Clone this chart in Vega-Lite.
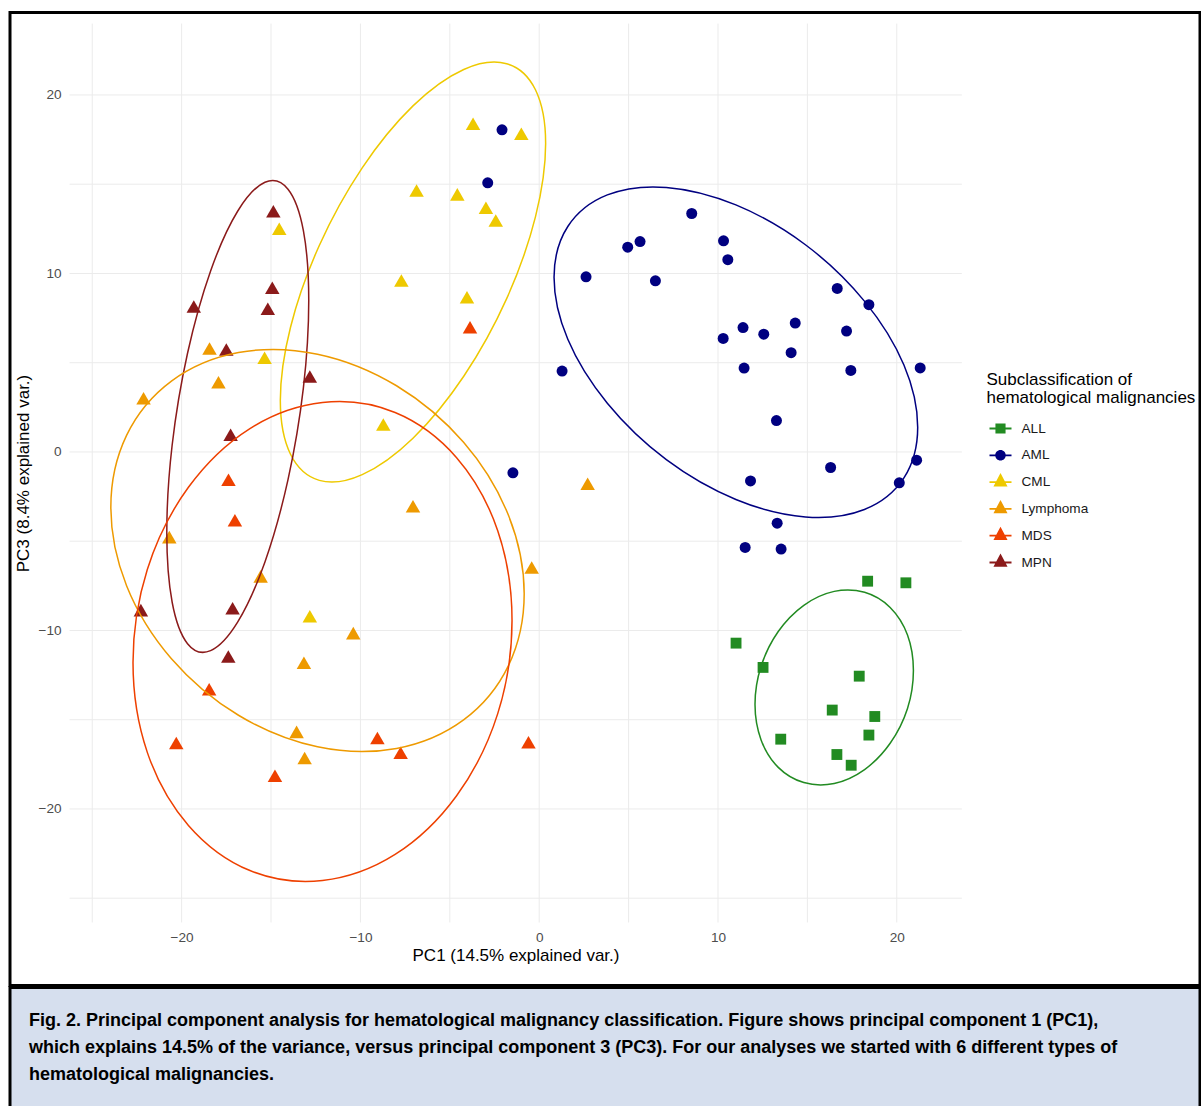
{
  "$schema": "https://vega.github.io/schema/vega-lite/v6.json",
  "background": "white",
  "padding": {"left": 8, "top": 10.5, "right": 0, "bottom": -4.5},
  "spacing": -3,
  "datasets": {
    "grid": [{"v": -25}, {"v": -20}, {"v": -15}, {"v": -10}, {"v": -5}, {"v": 0}, {"v": 5}, {"v": 10}, {"v": 15}, {"v": 20}],
    "points": [
      {"group": "ALL", "PC1": 18.37, "PC3": -7.24}, {"group": "ALL", "PC1": 20.51, "PC3": -7.33}, {"group": "ALL", "PC1": 11.01, "PC3": -10.71},
      {"group": "ALL", "PC1": 12.52, "PC3": -12.07}, {"group": "ALL", "PC1": 17.90, "PC3": -12.56}, {"group": "ALL", "PC1": 16.39, "PC3": -14.46},
      {"group": "ALL", "PC1": 18.77, "PC3": -14.82}, {"group": "ALL", "PC1": 18.44, "PC3": -15.86}, {"group": "ALL", "PC1": 13.51, "PC3": -16.09},
      {"group": "ALL", "PC1": 16.65, "PC3": -16.95}, {"group": "ALL", "PC1": 17.45, "PC3": -17.55},
      {"group": "AML", "PC1": 8.53, "PC3": 13.36}, {"group": "AML", "PC1": 4.95, "PC3": 11.47}, {"group": "AML", "PC1": 5.64, "PC3": 11.79},
      {"group": "AML", "PC1": 10.31, "PC3": 11.83}, {"group": "AML", "PC1": 10.55, "PC3": 10.77}, {"group": "AML", "PC1": 2.62, "PC3": 9.81},
      {"group": "AML", "PC1": 6.50, "PC3": 9.59}, {"group": "AML", "PC1": 16.67, "PC3": 9.16}, {"group": "AML", "PC1": 18.44, "PC3": 8.25},
      {"group": "AML", "PC1": 11.40, "PC3": 6.97}, {"group": "AML", "PC1": 12.56, "PC3": 6.60}, {"group": "AML", "PC1": 14.32, "PC3": 7.22},
      {"group": "AML", "PC1": 10.29, "PC3": 6.36}, {"group": "AML", "PC1": 17.19, "PC3": 6.77}, {"group": "AML", "PC1": 14.09, "PC3": 5.56},
      {"group": "AML", "PC1": 1.28, "PC3": 4.53}, {"group": "AML", "PC1": 11.46, "PC3": 4.70}, {"group": "AML", "PC1": 17.43, "PC3": 4.57},
      {"group": "AML", "PC1": 21.31, "PC3": 4.71}, {"group": "AML", "PC1": 13.27, "PC3": 1.76}, {"group": "AML", "PC1": 21.11, "PC3": -0.46},
      {"group": "AML", "PC1": 16.30, "PC3": -0.87}, {"group": "AML", "PC1": 20.14, "PC3": -1.73}, {"group": "AML", "PC1": 11.82, "PC3": -1.62},
      {"group": "AML", "PC1": 13.31, "PC3": -3.99}, {"group": "AML", "PC1": 11.52, "PC3": -5.35}, {"group": "AML", "PC1": 13.53, "PC3": -5.44},
      {"group": "AML", "PC1": -2.08, "PC3": 18.05}, {"group": "AML", "PC1": -2.88, "PC3": 15.08}, {"group": "AML", "PC1": -1.47, "PC3": -1.17},
      {"group": "CML", "PC1": -3.70, "PC3": 18.39}, {"group": "CML", "PC1": -1.00, "PC3": 17.83}, {"group": "CML", "PC1": -6.86, "PC3": 14.65},
      {"group": "CML", "PC1": -4.58, "PC3": 14.43}, {"group": "CML", "PC1": -2.98, "PC3": 13.68}, {"group": "CML", "PC1": -2.43, "PC3": 12.97},
      {"group": "CML", "PC1": -14.54, "PC3": 12.50}, {"group": "CML", "PC1": -7.71, "PC3": 9.61}, {"group": "CML", "PC1": -4.04, "PC3": 8.67},
      {"group": "CML", "PC1": -15.36, "PC3": 5.28}, {"group": "CML", "PC1": -8.72, "PC3": 1.54}, {"group": "CML", "PC1": -12.83, "PC3": -9.20},
      {"group": "Lymphoma", "PC1": -18.44, "PC3": 5.80}, {"group": "Lymphoma", "PC1": -17.94, "PC3": 3.91}, {"group": "Lymphoma", "PC1": -22.13, "PC3": 3.01},
      {"group": "Lymphoma", "PC1": -20.69, "PC3": -4.77}, {"group": "Lymphoma", "PC1": -7.06, "PC3": -3.04}, {"group": "Lymphoma", "PC1": -15.58, "PC3": -6.97},
      {"group": "Lymphoma", "PC1": -10.40, "PC3": -10.15}, {"group": "Lymphoma", "PC1": -13.16, "PC3": -11.81}, {"group": "Lymphoma", "PC1": -13.57, "PC3": -15.68},
      {"group": "Lymphoma", "PC1": -13.12, "PC3": -17.15}, {"group": "Lymphoma", "PC1": -0.42, "PC3": -6.47}, {"group": "Lymphoma", "PC1": 2.71, "PC3": -1.78},
      {"group": "MDS", "PC1": -3.87, "PC3": 6.99}, {"group": "MDS", "PC1": -17.38, "PC3": -1.56}, {"group": "MDS", "PC1": -17.02, "PC3": -3.82},
      {"group": "MDS", "PC1": -18.46, "PC3": -13.29}, {"group": "MDS", "PC1": -20.30, "PC3": -16.31}, {"group": "MDS", "PC1": -14.78, "PC3": -18.14},
      {"group": "MDS", "PC1": -9.05, "PC3": -16.03}, {"group": "MDS", "PC1": -7.75, "PC3": -16.85}, {"group": "MDS", "PC1": -0.60, "PC3": -16.26},
      {"group": "MPN", "PC1": -14.87, "PC3": 13.49}, {"group": "MPN", "PC1": -14.93, "PC3": 9.20}, {"group": "MPN", "PC1": -15.18, "PC3": 8.02},
      {"group": "MPN", "PC1": -19.32, "PC3": 8.15}, {"group": "MPN", "PC1": -17.50, "PC3": 5.74}, {"group": "MPN", "PC1": -12.83, "PC3": 4.23},
      {"group": "MPN", "PC1": -17.26, "PC3": 0.96}, {"group": "MPN", "PC1": -22.28, "PC3": -8.86}, {"group": "MPN", "PC1": -17.15, "PC3": -8.75},
      {"group": "MPN", "PC1": -17.39, "PC3": -11.46}
    ],
    "ellipses": [
      {"group": "AML", "idx": 0, "PC1": 21.17, "PC3": 1.39}, {"group": "AML", "idx": 1, "PC1": 20.40, "PC3": -1.45},
      {"group": "AML", "idx": 2, "PC1": 18.19, "PC3": -3.22}, {"group": "AML", "idx": 3, "PC1": 14.89, "PC3": -3.64},
      {"group": "AML", "idx": 4, "PC1": 11.00, "PC3": -2.66}, {"group": "AML", "idx": 5, "PC1": 7.11, "PC3": -0.43},
      {"group": "AML", "idx": 6, "PC1": 3.81, "PC3": 2.73}, {"group": "AML", "idx": 7, "PC1": 1.60, "PC3": 6.31},
      {"group": "AML", "idx": 8, "PC1": 0.83, "PC3": 9.79}, {"group": "AML", "idx": 9, "PC1": 1.60, "PC3": 12.63},
      {"group": "AML", "idx": 10, "PC1": 3.81, "PC3": 14.40}, {"group": "AML", "idx": 11, "PC1": 7.11, "PC3": 14.82},
      {"group": "AML", "idx": 12, "PC1": 11.00, "PC3": 13.84}, {"group": "AML", "idx": 13, "PC1": 14.89, "PC3": 11.61},
      {"group": "AML", "idx": 14, "PC1": 18.19, "PC3": 8.45}, {"group": "AML", "idx": 15, "PC1": 20.40, "PC3": 4.87},
      {"group": "CML", "idx": 0, "PC1": 0.36, "PC3": 17.28}, {"group": "CML", "idx": 1, "PC1": -0.21, "PC3": 13.17},
      {"group": "CML", "idx": 2, "PC1": -1.82, "PC3": 8.59}, {"group": "CML", "idx": 3, "PC1": -4.22, "PC3": 4.24},
      {"group": "CML", "idx": 4, "PC1": -7.06, "PC3": 0.77}, {"group": "CML", "idx": 5, "PC1": -9.90, "PC3": -1.27},
      {"group": "CML", "idx": 6, "PC1": -12.30, "PC3": -1.59}, {"group": "CML", "idx": 7, "PC1": -13.91, "PC3": -0.13},
      {"group": "CML", "idx": 8, "PC1": -14.48, "PC3": 2.88}, {"group": "CML", "idx": 9, "PC1": -13.91, "PC3": 6.99},
      {"group": "CML", "idx": 10, "PC1": -12.30, "PC3": 11.57}, {"group": "CML", "idx": 11, "PC1": -9.90, "PC3": 15.92},
      {"group": "CML", "idx": 12, "PC1": -7.06, "PC3": 19.39}, {"group": "CML", "idx": 13, "PC1": -4.22, "PC3": 21.43},
      {"group": "CML", "idx": 14, "PC1": -1.82, "PC3": 21.75}, {"group": "CML", "idx": 15, "PC1": -0.21, "PC3": 20.29},
      {"group": "MPN", "idx": 0, "PC1": -12.89, "PC3": 8.49}, {"group": "MPN", "idx": 1, "PC1": -13.19, "PC3": 3.59},
      {"group": "MPN", "idx": 2, "PC1": -14.05, "PC3": -1.55}, {"group": "MPN", "idx": 3, "PC1": -15.34, "PC3": -6.16},
      {"group": "MPN", "idx": 4, "PC1": -16.86, "PC3": -9.52}, {"group": "MPN", "idx": 5, "PC1": -18.38, "PC3": -11.13},
      {"group": "MPN", "idx": 6, "PC1": -19.67, "PC3": -10.74}, {"group": "MPN", "idx": 7, "PC1": -20.53, "PC3": -8.42},
      {"group": "MPN", "idx": 8, "PC1": -20.83, "PC3": -4.51}, {"group": "MPN", "idx": 9, "PC1": -20.53, "PC3": 0.39},
      {"group": "MPN", "idx": 10, "PC1": -19.67, "PC3": 5.53}, {"group": "MPN", "idx": 11, "PC1": -18.38, "PC3": 10.14},
      {"group": "MPN", "idx": 12, "PC1": -16.86, "PC3": 13.50}, {"group": "MPN", "idx": 13, "PC1": -15.34, "PC3": 15.11},
      {"group": "MPN", "idx": 14, "PC1": -14.05, "PC3": 14.72}, {"group": "MPN", "idx": 15, "PC1": -13.19, "PC3": 12.40},
      {"group": "Lymphoma", "idx": 0, "PC1": -0.84, "PC3": -7.95}, {"group": "Lymphoma", "idx": 1, "PC1": -1.72, "PC3": -11.97},
      {"group": "Lymphoma", "idx": 2, "PC1": -4.23, "PC3": -15.01}, {"group": "Lymphoma", "idx": 3, "PC1": -7.98, "PC3": -16.61},
      {"group": "Lymphoma", "idx": 4, "PC1": -12.40, "PC3": -16.52}, {"group": "Lymphoma", "idx": 5, "PC1": -16.82, "PC3": -14.75},
      {"group": "Lymphoma", "idx": 6, "PC1": -20.57, "PC3": -11.58}, {"group": "Lymphoma", "idx": 7, "PC1": -23.08, "PC3": -7.49},
      {"group": "Lymphoma", "idx": 8, "PC1": -23.96, "PC3": -3.09}, {"group": "Lymphoma", "idx": 9, "PC1": -23.08, "PC3": 0.93},
      {"group": "Lymphoma", "idx": 10, "PC1": -20.57, "PC3": 3.97}, {"group": "Lymphoma", "idx": 11, "PC1": -16.82, "PC3": 5.57},
      {"group": "Lymphoma", "idx": 12, "PC1": -12.40, "PC3": 5.48}, {"group": "Lymphoma", "idx": 13, "PC1": -7.98, "PC3": 3.71},
      {"group": "Lymphoma", "idx": 14, "PC1": -4.23, "PC3": 0.54}, {"group": "Lymphoma", "idx": 15, "PC1": -1.72, "PC3": -3.55},
      {"group": "MDS", "idx": 0, "PC1": -1.52, "PC3": -9.44}, {"group": "MDS", "idx": 1, "PC1": -2.32, "PC3": -14.66},
      {"group": "MDS", "idx": 2, "PC1": -4.62, "PC3": -19.26}, {"group": "MDS", "idx": 3, "PC1": -8.06, "PC3": -22.55},
      {"group": "MDS", "idx": 4, "PC1": -12.12, "PC3": -24.01}, {"group": "MDS", "idx": 5, "PC1": -16.18, "PC3": -23.45},
      {"group": "MDS", "idx": 6, "PC1": -19.62, "PC3": -20.92}, {"group": "MDS", "idx": 7, "PC1": -21.92, "PC3": -16.83},
      {"group": "MDS", "idx": 8, "PC1": -22.72, "PC3": -11.80}, {"group": "MDS", "idx": 9, "PC1": -21.92, "PC3": -6.58},
      {"group": "MDS", "idx": 10, "PC1": -19.62, "PC3": -1.98}, {"group": "MDS", "idx": 11, "PC1": -16.18, "PC3": 1.31},
      {"group": "MDS", "idx": 12, "PC1": -12.12, "PC3": 2.77}, {"group": "MDS", "idx": 13, "PC1": -8.06, "PC3": 2.21},
      {"group": "MDS", "idx": 14, "PC1": -4.62, "PC3": -0.32}, {"group": "MDS", "idx": 15, "PC1": -2.32, "PC3": -4.41},
      {"group": "ALL", "idx": 0, "PC1": 20.93, "PC3": -12.24}, {"group": "ALL", "idx": 1, "PC1": 20.60, "PC3": -14.37},
      {"group": "ALL", "idx": 2, "PC1": 19.63, "PC3": -16.32}, {"group": "ALL", "idx": 3, "PC1": 18.20, "PC3": -17.79},
      {"group": "ALL", "idx": 4, "PC1": 16.50, "PC3": -18.57}, {"group": "ALL", "idx": 5, "PC1": 14.80, "PC3": -18.52},
      {"group": "ALL", "idx": 6, "PC1": 13.37, "PC3": -17.67}, {"group": "ALL", "idx": 7, "PC1": 12.41, "PC3": -16.13},
      {"group": "ALL", "idx": 8, "PC1": 12.07, "PC3": -14.14}, {"group": "ALL", "idx": 9, "PC1": 12.41, "PC3": -12.01},
      {"group": "ALL", "idx": 10, "PC1": 13.37, "PC3": -10.06}, {"group": "ALL", "idx": 11, "PC1": 14.80, "PC3": -8.59},
      {"group": "ALL", "idx": 12, "PC1": 16.50, "PC3": -7.81}, {"group": "ALL", "idx": 13, "PC1": 18.20, "PC3": -7.86},
      {"group": "ALL", "idx": 14, "PC1": 19.63, "PC3": -8.71}, {"group": "ALL", "idx": 15, "PC1": 20.60, "PC3": -10.25}
    ],
    "caption": [
      {"line": 1, "text": "Fig. 2. Principal component analysis for hematological malignancy classification. Figure shows principal component 1 (PC1),"},
      {"line": 2, "text": "which explains 14.5% of the variance, versus principal component 3 (PC3). For our analyses we started with 6 different types of"},
      {"line": 3, "text": "hematological malignancies."}
    ]
  },
  "vconcat": [
    {
      "width": 1190,
      "height": 973,
      "view": {"fill": "white", "stroke": "black", "strokeWidth": 3},
      "layer": [
        {
          "data": {"name": "grid"},
          "mark": {"type": "rule", "color": "#EBEBEB", "strokeWidth": 1},
          "encoding": {
            "x": {
              "field": "v", "type": "quantitative",
              "scale": {"domain": [-29.6, 36.96], "nice": false, "zero": false},
              "axis": {
                "orient": "bottom", "offset": -63, "values": [-20, -10, 0, 10, 20], "zindex": 1,
                "grid": false, "domain": false, "ticks": false, "labelPadding": 8,
                "labelFont": "Liberation Sans", "labelFontSize": 13.6, "labelColor": "#4D4D4D", "labelFlush": false, "labelOverlap": false,
                "title": "PC1 (14.5% explained var.)", "titleFont": "Liberation Sans", "titleFontSize": 17, "titleFontWeight": "normal",
                "titleColor": "black", "titleX": 505.5, "titleY": 32.5, "titleBaseline": "middle", "titleAlign": "center"
              }
            },
            "y": {
              "datum": -26.36, "type": "quantitative",
              "scale": {"domain": [-29.89, 24.62], "nice": false, "zero": false},
              "axis": {
                "orient": "left", "offset": -59.5, "values": [-20, -10, 0, 10, 20], "zindex": 1,
                "grid": false, "domain": false, "ticks": false, "labelPadding": 8.5,
                "labelFont": "Liberation Sans", "labelFontSize": 13.6, "labelColor": "#4D4D4D", "labelFlush": false, "labelOverlap": false,
                "title": "PC3 (8.4% explained var.)", "titleFont": "Liberation Sans", "titleFontSize": 17, "titleFontWeight": "normal",
                "titleColor": "black", "titleX": -46, "titleY": 460.5, "titleAngle": -90, "titleBaseline": "middle", "titleAlign": "center"
              }
            },
            "y2": {"datum": 24.0}
          }
        },
        {
          "data": {"name": "grid"},
          "mark": {"type": "rule", "color": "#EBEBEB", "strokeWidth": 1},
          "encoding": {
            "y": {"field": "v", "type": "quantitative", "scale": {"domain": [-29.89, 24.62], "nice": false, "zero": false}},
            "x": {"datum": -26.27, "type": "quantitative"},
            "x2": {"datum": 23.64}
          }
        },
        {
          "data": {"name": "points"},
          "transform": [{"filter": "false"}],
          "mark": {"type": "point", "filled": true, "opacity": 1, "strokeWidth": 0},
          "encoding": {
            "x": {"field": "PC1", "type": "quantitative", "scale": {"domain": [-29.6, 36.96], "nice": false, "zero": false}},
            "y": {"field": "PC3", "type": "quantitative", "scale": {"domain": [-29.89, 24.62], "nice": false, "zero": false}},
            "color": {
              "field": "group", "type": "nominal",
              "scale": {"domain": ["ALL", "AML", "CML", "Lymphoma", "MDS", "MPN"], "range": ["#228B22", "#000080", "#EEC900", "#EE9A00", "#EE4000", "#8B1A1A"]},
              "legend": {
                "title": ["Subclassification of", "hematological malignancies"],
                "orient": "none", "legendX": 976.5, "legendY": 359, "padding": 0,
                "titleFont": "Liberation Sans", "titleFontSize": 17, "titleFontWeight": "normal", "titleColor": "black",
                "titleLineHeight": 18, "titlePadding": 11, "titleLimit": 400,
                "labelFont": "Liberation Sans", "labelFontSize": 13.6, "labelColor": "#1A1A1A", "labelOffset": 10, "labelLimit": 300,
                "symbolSize": 484, "symbolOffset": 3, "symbolStrokeWidth": 0, "symbolOpacity": 1, "rowPadding": 8.8
              }
            },
            "shape": {
              "field": "group", "type": "nominal",
              "scale": {
                "domain": ["ALL", "AML", "CML", "Lymphoma", "MDS", "MPN"],
                "range": [
                  "M-1,-0.08H1V0.08H-1ZM-0.46,-0.46H0.46V0.46H-0.46Z",
                  "M-1,-0.08H1V0.08H-1ZM-0.48,0A0.48,0.48,0,1,1,0.48,0A0.48,0.48,0,1,1,-0.48,0Z",
                  "M-1,-0.08H1V0.08H-1ZM0,-0.82L0.64,0.39L-0.64,0.39Z",
                  "M-1,-0.08H1V0.08H-1ZM0,-0.82L0.64,0.39L-0.64,0.39Z",
                  "M-1,-0.08H1V0.08H-1ZM0,-0.82L0.64,0.39L-0.64,0.39Z",
                  "M-1,-0.08H1V0.08H-1ZM0,-0.82L0.64,0.39L-0.64,0.39Z"
                ]
              },
              "legend": {"title": ["Subclassification of", "hematological malignancies"], "symbolOpacity": 1}
            }
          }
        },
        {
          "data": {"name": "points"},
          "transform": [{"filter": "datum.group === 'ALL'"}],
          "mark": {"type": "point", "shape": "square", "size": 118, "filled": true, "opacity": 1, "strokeWidth": 0},
          "encoding": {
            "x": {"field": "PC1", "type": "quantitative"},
            "y": {"field": "PC3", "type": "quantitative"},
            "fill": {
              "field": "group", "type": "nominal",
              "scale": {"domain": ["ALL", "AML", "CML", "Lymphoma", "MDS", "MPN"], "range": ["#228B22", "#000080", "#EEC900", "#EE9A00", "#EE4000", "#8B1A1A"]},
              "legend": null
            }
          }
        },
        {
          "data": {"name": "points"},
          "transform": [{"filter": "datum.group === 'AML'"}],
          "mark": {"type": "point", "shape": "circle", "size": 121, "filled": true, "opacity": 1, "strokeWidth": 0},
          "encoding": {
            "x": {"field": "PC1", "type": "quantitative"},
            "y": {"field": "PC3", "type": "quantitative"},
            "fill": {"field": "group", "type": "nominal", "legend": null}
          }
        },
        {
          "data": {"name": "points"},
          "transform": [{"filter": "datum.group !== 'ALL' && datum.group !== 'AML'"}],
          "mark": {"type": "point", "shape": "triangle-up", "size": 210, "filled": true, "opacity": 1, "strokeWidth": 0},
          "encoding": {
            "x": {"field": "PC1", "type": "quantitative"},
            "y": {"field": "PC3", "type": "quantitative"},
            "fill": {"field": "group", "type": "nominal", "legend": null}
          }
        },
        {
          "data": {"name": "ellipses"},
          "mark": {"type": "line", "interpolate": "cardinal-closed", "strokeWidth": 1.5},
          "encoding": {
            "x": {"field": "PC1", "type": "quantitative"},
            "y": {"field": "PC3", "type": "quantitative"},
            "stroke": {
              "field": "group", "type": "nominal",
              "scale": {"domain": ["ALL", "AML", "CML", "Lymphoma", "MDS", "MPN"], "range": ["#228B22", "#000080", "#EEC900", "#EE9A00", "#EE4000", "#8B1A1A"]},
              "legend": null
            },
            "order": {"field": "idx", "type": "quantitative"}
          }
        }
      ]
    },
    {
      "width": 1190,
      "height": 124,
      "view": {"fill": "#D6DFEE", "stroke": "black", "strokeWidth": 3},
      "data": {"name": "caption"},
      "mark": {"type": "text", "align": "left", "baseline": "middle", "dx": 19, "font": "Liberation Sans", "fontSize": 18, "fontWeight": "bold", "color": "black"},
      "encoding": {
        "x": {"datum": 0, "type": "quantitative", "scale": {"domain": [0, 1]}, "axis": null},
        "y": {"field": "line", "type": "quantitative", "axis": null, "scale": {"domain": [4.382, -0.262], "nice": false, "zero": false}},
        "text": {"field": "text"}
      }
    }
  ]
}
